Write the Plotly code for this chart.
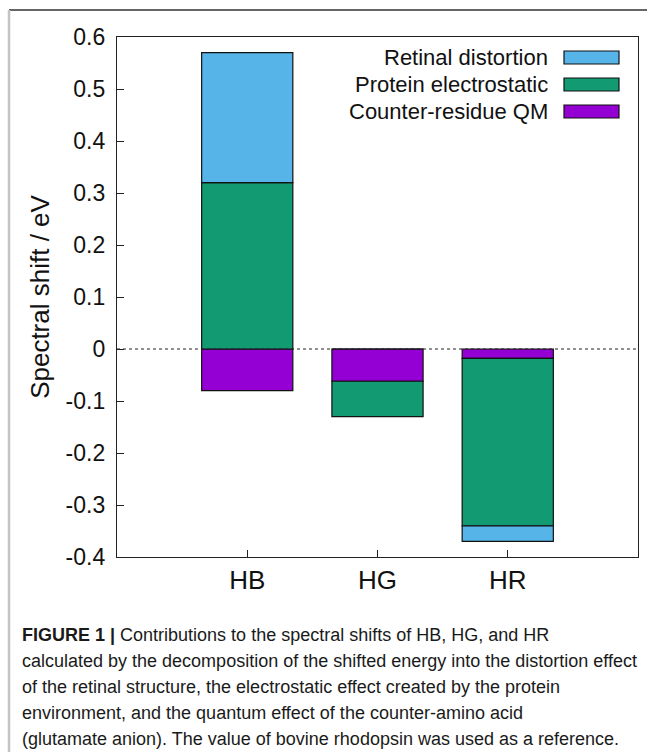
import plotly.graph_objects as go

# ---- data ----
categories = ["HB", "HG", "HR"]
counter_residue_qm = [-0.080, -0.062, -0.018]
protein_electrostatic = [0.320, -0.068, -0.322]
retinal_distortion = [0.250, 0.0, -0.030]

series_names = ["Retinal distortion", "Protein electrostatic", "Counter-residue QM"]
series_colors = ["#56b4e9", "#129a72", "#9400d3"]

ytick_vals = [0.6, 0.5, 0.4, 0.3, 0.2, 0.1, 0.0, -0.1, -0.2, -0.3, -0.4]
ytick_text = ["0.6", "0.5", "0.4", "0.3", "0.2", "0.1", "0", "-0.1", "-0.2", "-0.3", "-0.4"]

caption_lines = [
    "<b>FIGURE 1 |</b> Contributions to the spectral shifts of HB, HG, and HR",
    "calculated by the decomposition of the shifted energy into the distortion effect",
    "of the retinal structure, the electrostatic effect created by the protein",
    "environment, and the quantum effect of the counter-amino acid",
    "(glutamate anion). The value of bovine rhodopsin was used as a reference.",
]

# ---- layout geometry (pixels) ----
W, H = 647, 752
L, R, T, B = 117, 638, 37, 557
PW, PH = R - L, B - T


def px(x):
    return (x - L) / PW


def py(y):
    return (B - y) / PH


FONT = "Liberation Sans, Arial, sans-serif"

fig = go.Figure()
# stacking order: counter-residue first, then electrostatic, then distortion
for name, vals, col in [
    (series_names[2], counter_residue_qm, series_colors[2]),
    (series_names[1], protein_electrostatic, series_colors[1]),
    (series_names[0], retinal_distortion, series_colors[0]),
]:
    fig.add_trace(go.Bar(
        x=categories, y=vals, name=name, width=0.7,
        marker=dict(color=col, line=dict(color="#111111", width=1.2)),
        showlegend=False,
    ))

shapes = []
# zero line (dotted)
shapes.append(dict(type="line", xref="paper", yref="y", x0=0, x1=1, y0=0, y1=0,
                   line=dict(color="#222222", width=1, dash="dot"), layer="above"))
# outer figure frame: top and left
shapes.append(dict(type="line", xref="paper", yref="paper", x0=px(9), x1=px(W + 5),
                   y0=py(10), y1=py(10), line=dict(color="#666666", width=2)))
shapes.append(dict(type="line", xref="paper", yref="paper", x0=px(9), x1=px(9),
                   y0=py(10), y1=py(H + 5), line=dict(color="#c4c4c4", width=2.5)))

annotations = []
# custom gnuplot-style legend (text left, swatch right)
legend_rows = [57.5, 84.5, 111.5]
for name, col, yc in zip(series_names, series_colors, legend_rows):
    annotations.append(dict(xref="paper", yref="paper", x=px(550), y=py(yc),
                            text=name, showarrow=False, xanchor="right", yanchor="middle",
                            font=dict(family=FONT, size=22, color="#111111")))
    shapes.append(dict(type="rect", xref="paper", yref="paper",
                       x0=px(564), x1=px(619), y0=py(yc - 6.5), y1=py(yc + 6.5),
                       fillcolor=col, line=dict(color="#111111", width=1.2)))

# caption
cap_y = [635, 661, 687, 713, 739]
for line, yc in zip(caption_lines, cap_y):
    annotations.append(dict(xref="paper", yref="paper", x=px(20), y=py(yc),
                            text=line, showarrow=False, xanchor="left", yanchor="middle",
                            font=dict(family="Liberation Sans Narrow, Liberation Sans, Arial", size=18,
                                      color="#1a1a1a")))

fig.update_layout(
    width=W, height=H,
    margin=dict(l=L, r=W - R, t=T, b=H - B),
    paper_bgcolor="white", plot_bgcolor="white",
    barmode="relative", bargap=0.3,
    showlegend=False,
    shapes=shapes, annotations=annotations,
    font=dict(family=FONT, color="#111111"),
)
fig.update_xaxes(
    range=[-1, 3], showgrid=False, zeroline=False,
    showline=True, linecolor="#222222", linewidth=1.3, mirror=True,
    ticks="inside", ticklen=7, tickcolor="#222222", tickwidth=1.2,
    tickfont=dict(family=FONT, size=26, color="#111111"),
)
fig.update_yaxes(
    range=[-0.4, 0.6], showgrid=False, zeroline=False,
    showline=True, linecolor="#222222", linewidth=1.3, mirror=True,
    ticks="inside", ticklen=7, tickcolor="#222222", tickwidth=1.2,
    tickvals=ytick_vals, ticktext=ytick_text,
    tickfont=dict(family=FONT, size=23, color="#111111"),
    ticklabelstandoff=6,
    title=dict(text="Spectral shift / eV", font=dict(family=FONT, size=26, color="#111111"),
               standoff=8),
)

fig.write_html("out.html")
